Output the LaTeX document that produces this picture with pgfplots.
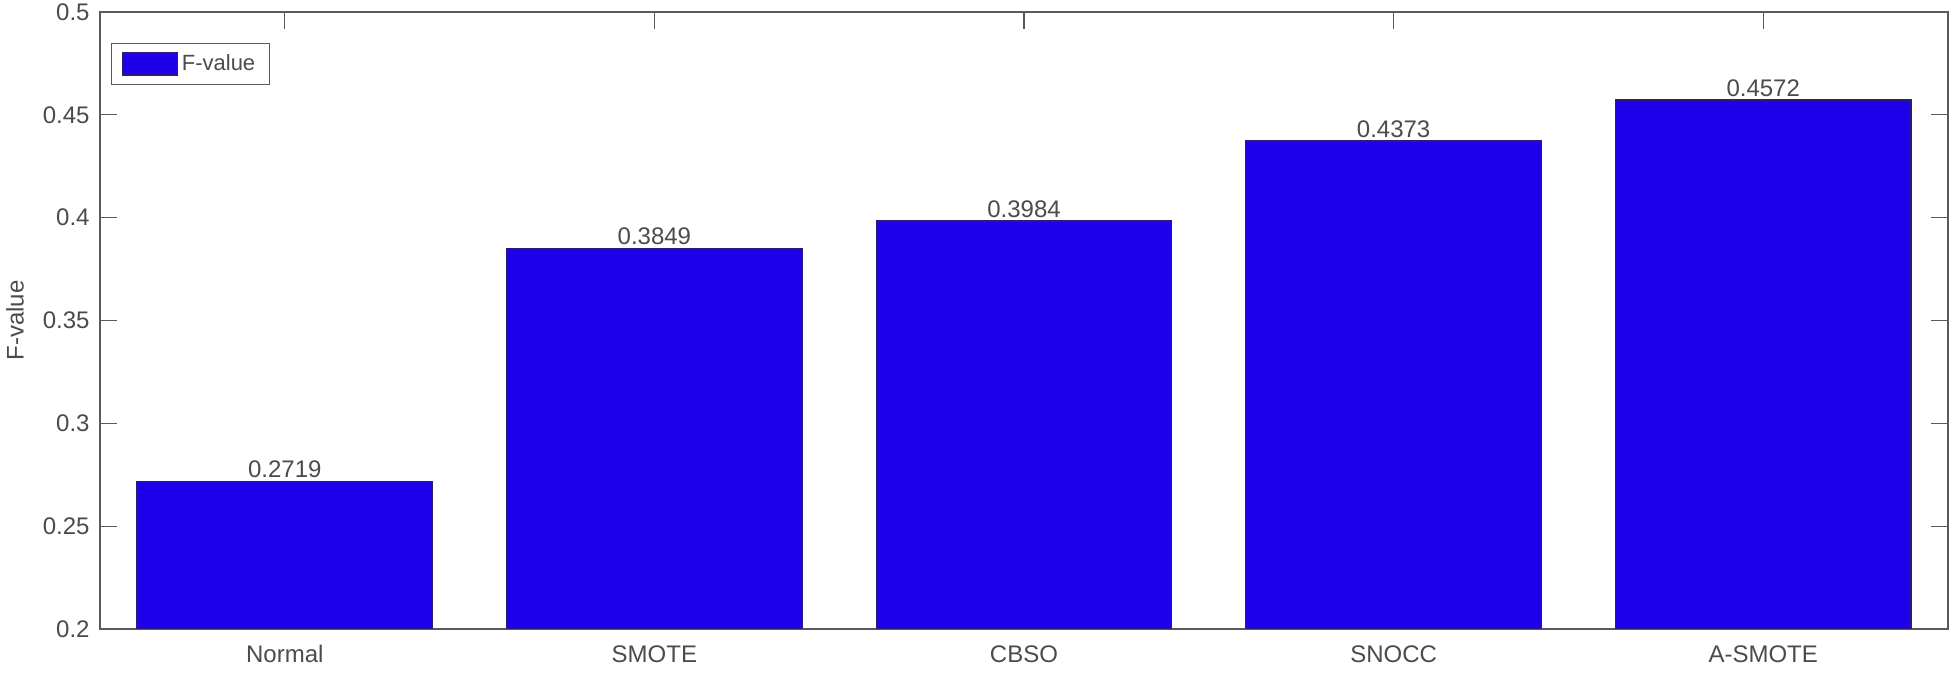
\documentclass[border=0pt]{standalone}
\usepackage{fontspec}
\setmainfont{Liberation Sans}
\usepackage{pgfplots}
\pgfplotsset{compat=1.18}
\definecolor{barblue}{RGB}{30,0,235}
\definecolor{baredge}{RGB}{40,30,120}
\definecolor{txtgrey}{RGB}{75,75,75}
\definecolor{axgrey}{RGB}{90,90,90}
\begin{document}
\begin{tikzpicture}
\begin{axis}[
  scale only axis,
  width=924pt, height=308.5pt,
  xmin=0.5, xmax=5.5,
  ymin=0.2, ymax=0.5,
  ytick={0.2,0.25,0.3,0.35,0.4,0.45,0.5},
  yticklabels={0.2,0.25,0.3,0.35,0.4,0.45,0.5},
  xtick={1,2,3,4,5},
  xticklabels={Normal,SMOTE,CBSO,SNOCC,A-SMOTE},
  tick align=inside,
  major tick length=8.5pt,
  tick style={axgrey, line width=0.6pt},
  axis line style={axgrey, line width=0.8pt},
  every axis/.append style={line width=0.8pt},
  tick label style={font=\fontsize{12}{14}\selectfont, text=txtgrey},
  xticklabel style={yshift=-4.5pt},
  yticklabel style={xshift=-1.5pt},
  ylabel={F-value},
  ylabel style={font=\fontsize{12}{14}\selectfont, text=txtgrey, at={(axis description cs:-0.046,0.5)}, anchor=center},
  legend style={at={(axis description cs:0.006,0.95)}, anchor=north west, font=\fontsize{11}{13}\selectfont, text=txtgrey, draw=axgrey, line width=0.6pt, inner xsep=5pt, inner ysep=3.5pt},
  legend image code/.code={\draw[#1, line width=0.6pt] (0pt,-5.5pt) rectangle (27.5pt,5.5pt);},
  legend cell align=left,
  nodes near coords,
  every node near coord/.append style={font=\fontsize{12}{14}\selectfont, text=txtgrey, anchor=south, inner sep=1.5pt},
  point meta=explicit symbolic,
]
\addplot[ybar, bar width=0.8, fill=barblue, draw=baredge, line width=0.6pt] coordinates {
  (1,0.2719) [0.2719]
  (2,0.3849) [0.3849]
  (3,0.3984) [0.3984]
  (4,0.4373) [0.4373]
  (5,0.4572) [0.4572]
};
\addlegendentry{F-value}
\end{axis}
\pgfresetboundingbox
\path[use as bounding box] ([shift={(-50pt,-22pt)}]current axis.south west) rectangle ([shift={(2.5pt,6pt)}]current axis.north east);
\end{tikzpicture}
\end{document}
